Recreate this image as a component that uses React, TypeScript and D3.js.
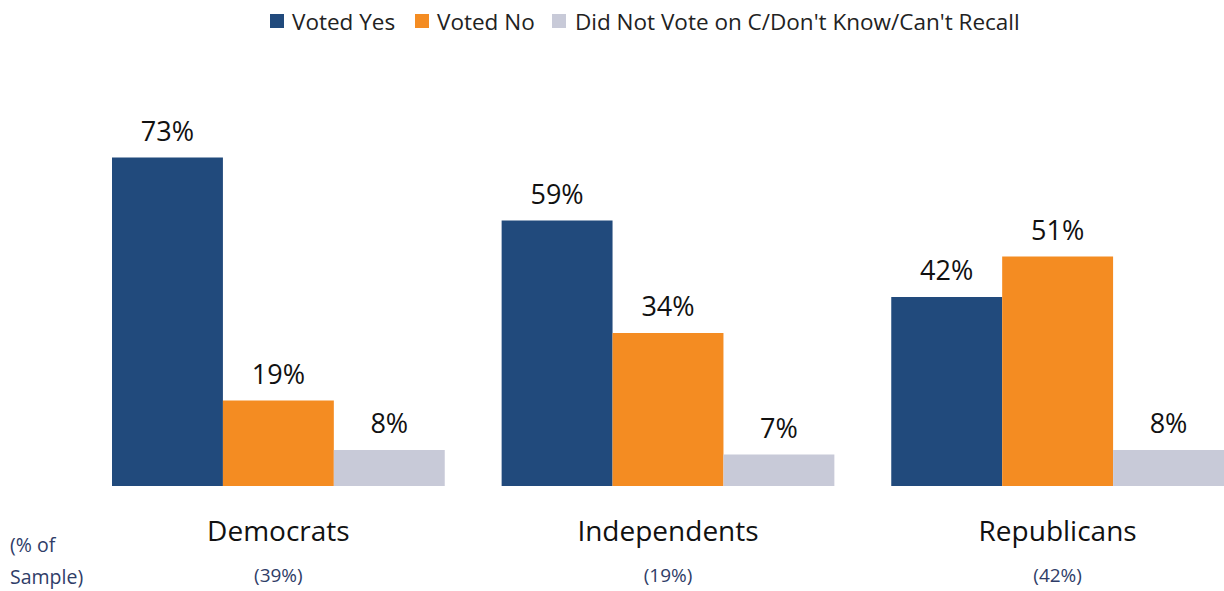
import React from "react";
import * as d3 from "d3";

const categories = ["Democrats", "Independents", "Republicans"];
const sampleShares = ["(39%)", "(19%)", "(42%)"];
const seriesNames = ["Voted Yes", "Voted No", "Did Not Vote on C/Don't Know/Can't Recall"];
const votedYes = [73, 59, 42];
const votedNo = [19, 34, 51];
const didNotVote = [8, 7, 8];
const seriesColors = ["#214a7c", "#f48c22", "#c8cad8"];

const W = 1224;
const H = 591;
const FONT = "'Open Sans', 'Noto Sans', sans-serif";

export default function App() {
  const series = [votedYes, votedNo, didNotVote];
  const x0 = d3.scaleBand<string>().domain(categories).range([112, 1224]).paddingInner(0.146).paddingOuter(0);
  const x1 = d3.scaleBand<number>().domain([0, 1, 2]).range([0, x0.bandwidth()]).padding(0);
  const y = d3.scaleLinear().domain([0, 100]).range([486, 36]);

  const legendItems = [
    { sq: 270, tx: 292 },
    { sq: 415, tx: 437 },
    { sq: 552, tx: 575 },
  ];

  return (
    <svg width={W} height={H} style={{ position: "absolute", left: 0, top: 0, background: "#fff" }} fontFamily={FONT}>
      {/* legend */}
      {seriesNames.map((n, i) => (
        <g key={n}>
          <rect x={legendItems[i].sq} y={14} width={14} height={14} fill={seriesColors[i]} />
          <text x={legendItems[i].tx} y={29.5} fontSize={22.5} fill="#222">{n}</text>
        </g>
      ))}
      {/* bars */}
      {categories.map((c, ci) => (
        <g key={c} transform={`translate(${x0(c)},0)`}>
          {series.map((s, si) => {
            const v = s[ci];
            const bx = x1(si)!;
            return (
              <g key={si}>
                <rect x={bx} y={y(v)} width={x1.bandwidth()} height={y(0) - y(v)} fill={seriesColors[si]} />
                <text x={bx + x1.bandwidth() / 2} y={y(v) - 17} textAnchor="middle" fontSize={27} fill="#111">
                  {v}%
                </text>
              </g>
            );
          })}
          <text x={x0.bandwidth() / 2} y={541} textAnchor="middle" fontSize={28} fill="#111">{c}</text>
          <text x={x0.bandwidth() / 2} y={582} textAnchor="middle" fontSize={19} fill="#2f3d68">{sampleShares[ci]}</text>
        </g>
      ))}
      <text x={10} y={552} fontSize={19.5} fill="#2f3d68">(% of</text>
      <text x={10} y={584} fontSize={19.5} fill="#2f3d68">Sample)</text>
    </svg>
  );
}
